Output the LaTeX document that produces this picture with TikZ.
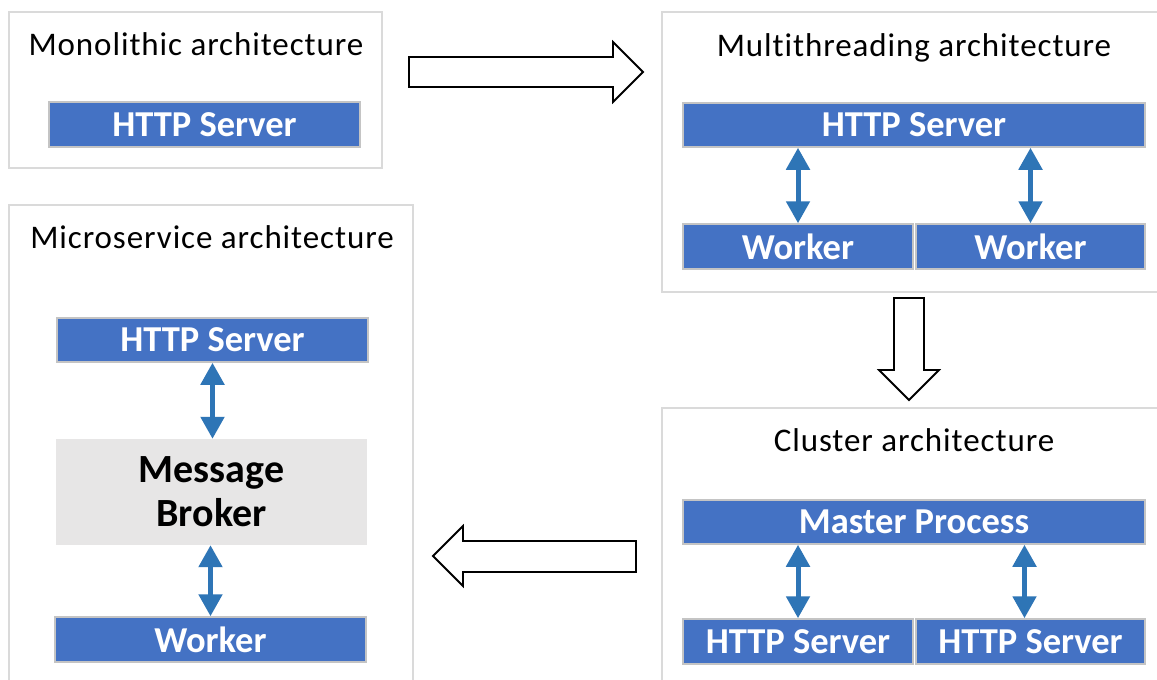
\documentclass[tikz,border=0pt]{standalone}
\usepackage{fontspec}
\setmainfont{Carlito}
\newfontfamily\titlefont[LetterSpace=2.8, Ligatures={NoCommon}]{Carlito}
\usetikzlibrary{arrows.meta}

\definecolor{boxblue}{HTML}{4472C4}
\definecolor{boxedge}{HTML}{C4C4C4}
\definecolor{paneledge}{HTML}{DADADA}
\definecolor{linkblue}{HTML}{2E75B6}
\definecolor{brokergrey}{HTML}{E7E6E6}

\tikzset{
  panel/.style={draw=paneledge, line width=2pt},
  paneltitle/.style={anchor=base, inner sep=0pt, font=\titlefont\fontsize{33}{40}\selectfont},
  bluebox/.style={draw=boxedge, line width=1.5pt, fill=boxblue, text=white,
    inner sep=0pt, font=\bfseries\fontsize{36.5}{42}\selectfont},
  brokerbox/.style={fill=brokergrey, inner sep=0pt, align=center,
    font=\bfseries\fontsize{40}{44}\selectfont},
  link/.style={draw=linkblue, line width=5pt,
    {Triangle[length=22pt,width=23pt]}-{Triangle[length=22pt,width=23pt]}},
  blockarrow/.style={draw=black, fill=white, line width=1.8pt, line join=miter},
}

\begin{document}
\begin{tikzpicture}[x=1pt, y=-1pt]
  \clip (0,0) rectangle (1157,680);
  \fill[white] (0,0) rectangle (1157,680);

  % panel frames
  \draw[panel] (9,12) rectangle (382,168);
  \draw[panel] (662,12) rectangle (1170,292);
  \draw[panel] (9,205) rectangle (413,700);
  \draw[panel] (662,408) rectangle (1170,700);

  % panel titles
  \node[paneltitle] (tmono)    at (196,55)  {Monolithic architecture};
  \node[paneltitle] (tmulti)   at (914,56)  {Multithreading architecture};
  \node[paneltitle] (tmicro)   at (212,248) {Microservice architecture};
  \node[paneltitle] (tcluster) at (914,451) {Cluster architecture};

  % monolithic
  \node[bluebox, minimum width=311pt, minimum height=45pt] (monohttp) at (204.5,124.5) {HTTP Server};

  % multithreading
  \node[bluebox, minimum width=462pt, minimum height=44pt] (mthttp) at (914,125) {HTTP Server};
  \node[bluebox, minimum width=230pt, minimum height=45pt] (mtw1) at (798,246.5) {Worker};
  \node[bluebox, minimum width=229pt, minimum height=45pt] (mtw2) at (1030.5,246.5) {Worker};
  \draw[link] (mtw1.north |- mthttp.south) -- (mtw1.north);
  \draw[link] (mtw2.north |- mthttp.south) -- (mtw2.north);

  % cluster
  \node[bluebox, minimum width=462pt, minimum height=44pt] (master) at (914,522) {Master Process};
  \node[bluebox, minimum width=230pt, minimum height=45pt] (chttp1) at (798,641.5) {HTTP Server};
  \node[bluebox, minimum width=229pt, minimum height=45pt] (chttp2) at (1030.5,641.5) {HTTP Server};
  \draw[link] (chttp1.north |- master.south) -- (chttp1.north);
  \draw[link] ([xshift=-6pt]chttp2.north |- master.south) -- ([xshift=-6pt]chttp2.north);

  % microservice
  \node[bluebox, minimum width=311pt, minimum height=44pt] (mshttp) at (212.5,340) {HTTP Server};
  \node[brokerbox, minimum width=311pt, minimum height=106pt] (broker) at (211.5,492) {Message\\Broker};
  \node[bluebox, minimum width=311pt, minimum height=45pt] (msworker) at (210.5,639.5) {Worker};
  \draw[link] (mshttp.south) -- (mshttp.south |- broker.north);
  \draw[link] (msworker.north |- broker.south) -- (msworker.north);

  % block arrows between the panels
  \draw[blockarrow] (409,57) -- (613,57) -- (613,42) -- (643,72) -- (613,102) -- (613,87) -- (409,87) -- cycle;
  \draw[blockarrow] (894,298) -- (924,298) -- (924,370) -- (939,370) -- (909,400) -- (879,370) -- (894,370) -- cycle;
  \draw[blockarrow] (636,541) -- (463,541) -- (463,526) -- (433,556) -- (463,586) -- (463,572) -- (636,572) -- cycle;
\end{tikzpicture}
\end{document}
